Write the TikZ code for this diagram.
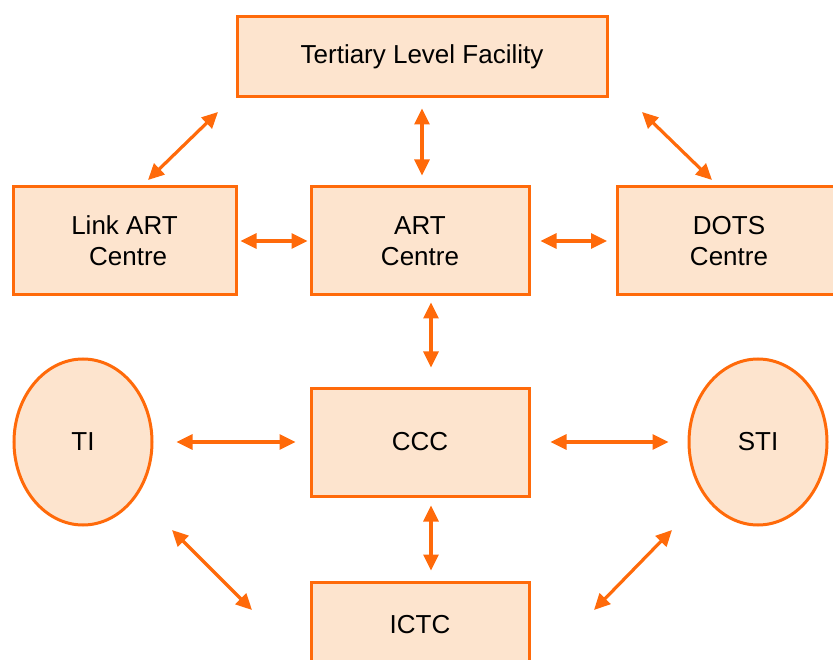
\documentclass[tikz,border=0pt]{standalone}
\usepackage{fontspec}
\setmainfont{Liberation Sans}
\usetikzlibrary{arrows.meta,shapes.geometric}
\definecolor{edgeor}{HTML}{FF6A0A}
\definecolor{fillor}{HTML}{FDE4CE}
\begin{document}
\begin{tikzpicture}[x=1pt,y=-1pt,
  box/.style={draw=edgeor,fill=fillor,line width=3pt,rectangle,inner sep=0pt,
    font=\fontsize{26}{31}\selectfont,align=center},
  oval/.style={draw=edgeor,fill=fillor,line width=3pt,ellipse,inner sep=0pt,
    minimum width=138pt,minimum height=166pt,font=\fontsize{26}{31}\selectfont},
  arr/.style={draw=edgeor,line width=3.2pt,{Triangle[length=16pt,width=15pt]}-{Triangle[length=16pt,width=15pt]}}]
\useasboundingbox (0,0) rectangle (833,660);
\node[box,minimum width=370pt,minimum height=80pt] (tert) at (422,57) {Tertiary Level Facility};
\node[box,minimum width=223pt,minimum height=108pt] (link) at (124.5,241) {Link ART\\ \ Centre};
\node[box,minimum width=218pt,minimum height=108pt] (art) at (420,241) {ART\\Centre};
\node[box,minimum width=223pt,minimum height=108pt] (dots) at (729,241) {DOTS\\Centre};
\node[box,minimum width=218pt,minimum height=108pt] (ccc) at (420,442) {CCC};
\node[box,minimum width=218pt,minimum height=86pt] (ictc) at (420,625) {ICTC};
\node[oval] (ti) at (83,442) {TI};
\node[oval] (sti) at (758,442) {STI};
% free ends of diagonal connectors
\coordinate (tl1) at (218,112); \coordinate (tl2) at (148,180);
\coordinate (td1) at (642,112); \coordinate (td2) at (712,180);
\coordinate (ti1) at (172,530); \coordinate (ti2) at (252,610);
\coordinate (si1) at (672,530); \coordinate (si2) at (594,610);
\draw[arr] (tl1) -- (tl2);
\draw[arr] (td1) -- (td2);
\draw[arr] (ti1) -- (ti2);
\draw[arr] (si1) -- (si2);
\draw[arr,shorten <=10pt,shorten >=10pt] (tert.south) -- (tert.south |- art.north);
\draw[arr,shorten <=3pt,shorten >=2pt] (link.east) -- (art.west);
\draw[arr,shorten <=10pt,shorten >=9pt] (art.east) -- (dots.west);
\draw[arr,shorten <=6pt,shorten >=19pt] ([xshift=11pt]art.south) -- ([xshift=11pt]ccc.north);
\draw[arr,shorten <=23pt,shorten >=14pt] (ti.east) -- (ccc.west);
\draw[arr,shorten <=20pt,shorten >=19pt] (ccc.east) -- (sti.west);
\draw[arr,shorten <=8pt,shorten >=10pt] ([xshift=11pt]ccc.south) -- ([xshift=11pt]ictc.north);
\end{tikzpicture}
\end{document}
